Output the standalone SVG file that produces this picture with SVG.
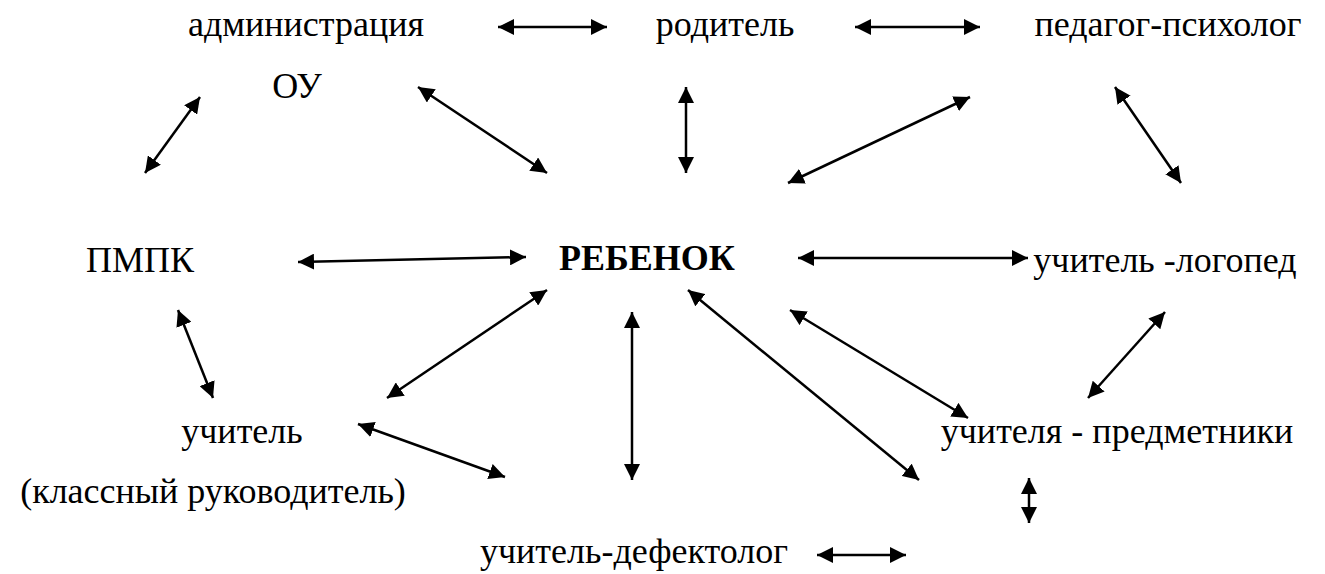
<svg xmlns="http://www.w3.org/2000/svg" width="1325" height="574" viewBox="0 0 1325 574">
<style>
text{font-family:"Liberation Serif","Tinos","Times New Roman",Times,"DejaVu Serif","Noto Serif","FreeSerif",serif;font-size:36px;fill:#000;text-anchor:middle}
.b{font-weight:bold}
.c line{stroke:#000;stroke-width:2.5;marker-start:url(#ah);marker-end:url(#ah)}
</style>
<defs>
<marker id="ah" markerUnits="userSpaceOnUse" viewBox="0 0 16 16" markerWidth="16" markerHeight="16" refX="16" refY="8" orient="auto-start-reverse">
<path d="M0,0 L16,8 L0,16 z" fill="#000"/>
</marker>
</defs>
<rect width="1325" height="574" fill="#fff"/>
<g id="admin"><text x="306" y="36">администрация</text><text x="297" y="98">ОУ</text></g>
<g id="parent"><text x="725" y="36">родитель</text></g>
<g id="psych"><text x="1168" y="36">педагог-психолог</text></g>
<g id="pmpk"><text x="140" y="272">ПМПК</text></g>
<g id="child"><text class="b" x="647" y="270">РЕБЕНОК</text></g>
<g id="logoped"><text x="1165" y="272">учитель -логопед</text></g>
<g id="teacher"><text x="242" y="443">учитель</text><text x="213" y="503">(классный руководитель)</text></g>
<g id="subject"><text x="1117" y="443">учителя - предметники</text></g>
<g id="defect"><text x="634" y="563">учитель-дефектолог</text></g>
<g id="connectors" class="c">
<line x1="498" y1="27" x2="607" y2="27"/>
<line x1="855" y1="27" x2="980" y2="27"/>
<line x1="418" y1="87" x2="547" y2="173"/>
<line x1="686" y1="87" x2="686" y2="173"/>
<line x1="970" y1="97" x2="788" y2="183"/>
<line x1="1115" y1="87" x2="1181" y2="183"/>
<line x1="200" y1="97" x2="145" y2="173"/>
<line x1="298" y1="262" x2="526" y2="257"/>
<line x1="798" y1="258" x2="1028" y2="258"/>
<line x1="178" y1="310" x2="213" y2="398"/>
<line x1="547" y1="290" x2="387" y2="398"/>
<line x1="632" y1="312" x2="632" y2="480"/>
<line x1="688" y1="290" x2="919" y2="480"/>
<line x1="790" y1="310" x2="968" y2="418"/>
<line x1="1165" y1="312" x2="1088" y2="398"/>
<line x1="358" y1="424" x2="505" y2="477"/>
<line x1="1029" y1="478" x2="1029" y2="523"/>
<line x1="817" y1="555" x2="906" y2="555"/>
</g>
</svg>
